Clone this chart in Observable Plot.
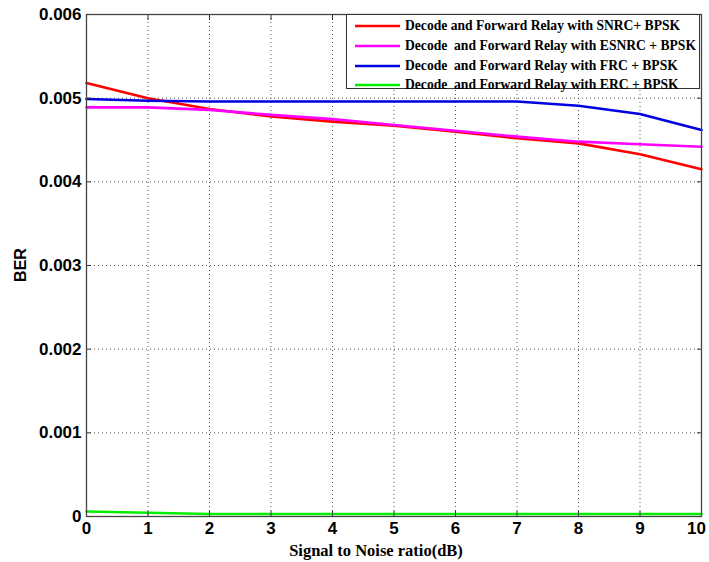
<!DOCTYPE html>
<html>
<head>
<meta charset="utf-8">
<script src="https://cdn.jsdelivr.net/npm/d3@7"></script>
<script src="https://cdn.jsdelivr.net/npm/@observablehq/plot@0.6"></script>
<style>
  html, body { margin: 0; padding: 0; background: #fff; }
  #wrap { position: relative; width: 709px; height: 562px; overflow: hidden; }
  #legend { position: absolute; left: 346px; top: 14px; width: 354px; height: 75px; border: 1px solid #333; background: #fff; box-sizing: border-box; }
  .row { position: absolute; left: 0; height: 20px; display: flex; align-items: center; }
  .row svg { margin-left: 8px; }
  .row span { margin-left: 5px; font-family: "Liberation Serif", "Times New Roman", serif; font-weight: bold; font-size: 13.6px; white-space: pre; color: #000; }
  #xlabel { position: absolute; left: 376px; top: 551px; transform: translate(-50%, -50%); font-family: "Liberation Serif", serif; font-weight: bold; font-size: 16.5px; white-space: pre; }
  #ylabel { position: absolute; left: 21px; top: 265px; transform: translate(-50%, -50%) rotate(-90deg); font-family: "Liberation Sans", Arial, sans-serif; font-weight: bold; font-size: 16px; }
</style>
</head>
<body>
<div id="wrap"></div>
<script>
const snr = [0, 1, 2, 3, 4, 5, 6, 7, 8, 9, 10];
const berSNRC  = [0.00518, 0.00500, 0.00487, 0.00478, 0.00472, 0.00467, 0.00460, 0.00452, 0.00446, 0.00433, 0.00415];
const berESNRC = [0.00489, 0.00489, 0.00486, 0.00480, 0.00475, 0.00468, 0.00461, 0.00454, 0.00448, 0.00445, 0.00442];
const berFRC   = [0.00499, 0.00497, 0.00496, 0.00496, 0.00496, 0.00496, 0.00496, 0.00496, 0.00491, 0.00481, 0.00462];
const berERC   = [0.00006, 0.000045, 0.00003, 0.00003, 0.00003, 0.00003, 0.00003, 0.00003, 0.00003, 0.00003, 0.00003];
const seriesNames = [
  "Decode and Forward Relay with SNRC+ BPSK",
  "Decode  and Forward Relay with ESNRC + BPSK",
  "Decode  and Forward Relay with FRC + BPSK",
  "Decode  and Forward Relay with ERC + BPSK"
];
const seriesColors = ["#ff0000", "#ff00ff", "#0000e0", "#00ee00"];
const xTicks = [0, 1, 2, 3, 4, 5, 6, 7, 8, 9, 10];
const yTicks = [0, 0.001, 0.002, 0.003, 0.004, 0.005, 0.006];
const yTickLabels = ["0", "0.001", "0.002", "0.003", "0.004", "0.005", "0.006"];
const xLabel = "Signal to Noise ratio(dB)";
const yLabel = "BER";

const seriesValues = [berSNRC, berESNRC, berFRC, berERC];
const data = seriesNames.flatMap((name, i) => snr.map((x, j) => ({x, y: seriesValues[i][j], name})));

const font = {fontFamily: "Liberation Sans, Arial, sans-serif", fontWeight: "bold", fontSize: 17};
const grid = {stroke: "#555", strokeOpacity: 1, strokeWidth: 1, strokeDasharray: "1,3"};

const chart = Plot.plot({
  width: 709, height: 562,
  marginLeft: 86, marginRight: 8, marginTop: 14, marginBottom: 46,
  style: {background: "transparent", color: "#000"},
  x: {domain: [0, 10], label: null},
  y: {domain: [0, 0.006], label: null},
  color: {domain: seriesNames, range: seriesColors},
  marks: [
    Plot.gridX(xTicks.slice(1, -1), grid),
    Plot.gridY(yTicks.slice(1, -1), grid),
    Plot.line(data, {x: "x", y: "y", stroke: "name", strokeWidth: 2.6}),
    Plot.axisX(xTicks.slice(0, -1), {anchor: "bottom", tickSize: 0, tickPadding: 5, ...font, label: null}),
    Plot.axisX(xTicks.slice(-1), {anchor: "bottom", tickSize: 0, tickPadding: 5, dx: -5, ...font, label: null}),
    Plot.axisY(yTicks, {anchor: "left", tickSize: 0, tickPadding: 5, ...font, label: null, tickFormat: (d, i) => yTickLabels[i]}),
    Plot.axisX(xTicks, {anchor: "bottom", tickSize: -5, tickFormat: () => "", label: null, stroke: "#333"}),
    Plot.axisX(xTicks, {anchor: "top", tickSize: -5, tickFormat: () => "", label: null, stroke: "#333"}),
    Plot.axisY(yTicks, {anchor: "left", tickSize: -5, tickFormat: () => "", label: null, stroke: "#333"}),
    Plot.axisY(yTicks, {anchor: "right", tickSize: -5, tickFormat: () => "", label: null, stroke: "#333"}),
    Plot.frame({stroke: "#444", strokeWidth: 1.3})
  ]
});

const wrap = document.getElementById("wrap");
wrap.appendChild(chart);

const legend = document.createElement("div");
legend.id = "legend";
seriesNames.forEach((name, i) => {
  const row = document.createElement("div");
  row.className = "row";
  row.style.top = (1 + i * 19.8) + "px";
  row.innerHTML = `<svg width="45" height="6"><line x1="0" x2="45" y1="3" y2="3" stroke="${seriesColors[i]}" stroke-width="2.6"/></svg><span></span>`;
  row.querySelector("span").textContent = name;
  legend.appendChild(row);
});
wrap.appendChild(legend);

const xl = document.createElement("div");
xl.id = "xlabel"; xl.textContent = xLabel; wrap.appendChild(xl);
const yl = document.createElement("div");
yl.id = "ylabel"; yl.textContent = yLabel; wrap.appendChild(yl);
</script>
</body>
</html>
